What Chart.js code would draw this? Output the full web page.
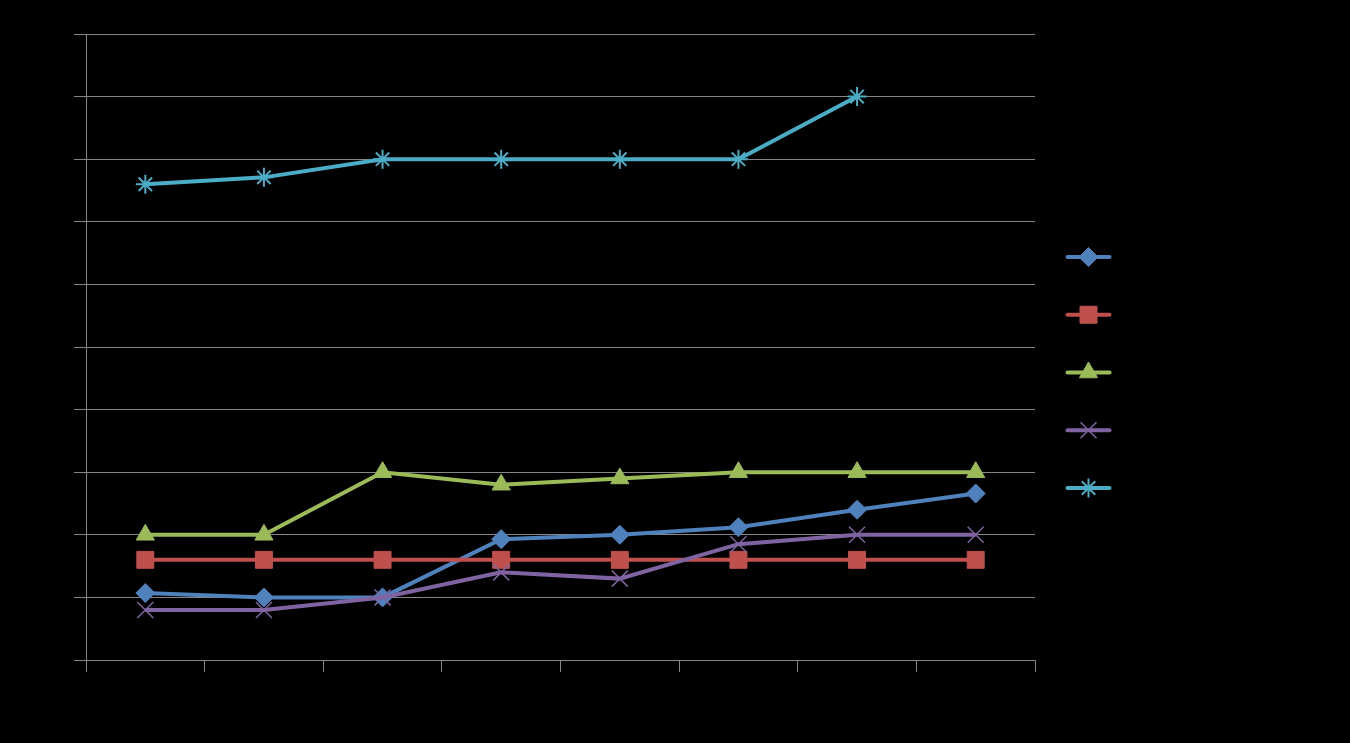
<!DOCTYPE html>
<html>
<head>
<meta charset="utf-8">
<script src="https://cdn.jsdelivr.net/npm/chart.js@4/dist/chart.umd.min.js"></script>
<style>
  html, body { margin: 0; padding: 0; background: #000; }
  #wrap { width: 1350px; height: 743px; }
</style>
</head>
<body>
<div id="wrap"><canvas id="lineChart" width="1350" height="743"></canvas></div>
<script>
// data
const categories = ["1", "2", "3", "4", "5", "6", "7", "8"];
const seriesNames = ["Series 1", "Series 2", "Series 3", "Series 4", "Series 5"];
const series1 = [1.07, 1.0, 1.0, 1.93, 2.0, 2.12, 2.4, 2.66];
const series2 = [1.6, 1.6, 1.6, 1.6, 1.6, 1.6, 1.6, 1.6];
const series3 = [2.0, 2.0, 3.0, 2.8, 2.9, 3.0, 3.0, 3.0];
const series4 = [0.8, 0.8, 1.0, 1.4, 1.3, 1.85, 2.0, 2.0];
const series5 = [7.6, 7.71, 8.0, 8.0, 8.0, 8.0, 9.0, null];
const yTicks = [0, 1, 2, 3, 4, 5, 6, 7, 8, 9, 10];

const colors = ["#4F81BD", "#C0504D", "#9BBB59", "#8064A2", "#4BACC6"];
const markers = ["rectRot", "rect", "triangle", "crossRot", "star"];
const markerSize = [9.5, 12, 10.5, 11.3, 9.5];
const markerBorder = [1, 1, 1, 1.5, 2];
const allSeries = [series1, series2, series3, series4, series5];

const GRID = "#868686";

const datasets = allSeries.map((vals, i) => ({
    label: seriesNames[i],
    data: vals,
    borderColor: colors[i],
    backgroundColor: colors[i],
    borderWidth: 4,
    tension: 0,
    pointStyle: markers[i],
    pointRadius: markerSize[i],
    pointHoverRadius: markerSize[i],
    pointBorderWidth: markerBorder[i],
    pointBorderColor: colors[i],
    pointBackgroundColor: colors[i],
    order: allSeries.length - 1 - i,   // later series on top
    spanGaps: false
}));

// black page background
const bgPlugin = {
    id: "bg",
    beforeDraw(chart) {
        const ctx = chart.ctx;
        ctx.save();
        ctx.fillStyle = "#000";
        ctx.fillRect(0, 0, chart.width, chart.height);
        ctx.restore();
    }
};

// legend: line with marker, no text, centred on the canvas
const legendPlugin = {
    id: "lineLegend",
    afterDraw(chart) {
        const ctx = chart.ctx;
        const drawPoint = Chart.helpers.drawPoint;
        const cx = 1088.5, half = 21, step = 57.75;
        const midY = chart.height / 2 + 1;
        datasets.forEach((ds, i) => {
            const y = midY + (i - 2) * step;
            ctx.save();
            ctx.strokeStyle = colors[i];
            ctx.lineWidth = 4;
            ctx.lineCap = "round";
            ctx.beginPath();
            ctx.moveTo(cx - half, y);
            ctx.lineTo(cx + half, y);
            ctx.stroke();
            ctx.fillStyle = colors[i];
            ctx.lineWidth = markerBorder[i];
            ctx.lineCap = "butt";
            drawPoint(ctx, { pointStyle: markers[i], radius: markerSize[i], borderWidth: markerBorder[i], rotation: 0 }, cx, y);
            ctx.restore();
        });
    }
};

const CHART = document.getElementById("lineChart");
let lineChart = new Chart(CHART, {
    type: "line",
    data: { labels: categories, datasets: datasets },
    options: {
        responsive: false,
        animation: false,
        layout: { padding: { left: 74, top: 34, right: 315, bottom: 71 } },
        plugins: {
            legend: { display: false },
            tooltip: { enabled: false }
        },
        scales: {
            x: {
                type: "category",
                offset: true,
                grid: { offset: true, drawOnChartArea: false, drawTicks: true, tickLength: 12, color: GRID, lineWidth: 1 },
                border: { color: GRID, width: 1 },
                ticks: { display: false }
            },
            y: {
                min: yTicks[0],
                max: yTicks[yTicks.length - 1],
                afterBuildTicks(scale) { scale.ticks = yTicks.map(v => ({ value: v })); },
                grid: { color: GRID, lineWidth: 1, tickLength: 12 },
                border: { color: GRID, width: 1 },
                ticks: { display: false }
            }
        }
    },
    plugins: [bgPlugin, legendPlugin]
});
</script>
</body>
</html>
